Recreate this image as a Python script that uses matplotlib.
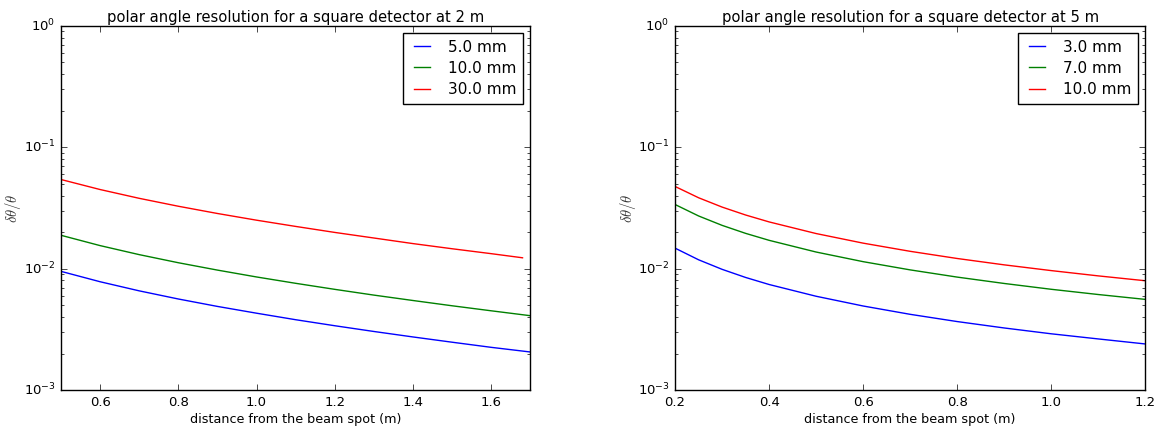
import matplotlib
matplotlib.use("Agg")
import matplotlib.pyplot as plt

# detector at 2 m
dist_2m = [0.5, 0.6, 0.7, 0.8, 0.9, 1.0, 1.1, 1.2, 1.3, 1.4, 1.5, 1.6, 1.7]
res_2m_5mm = [0.00951, 0.00781, 0.00657, 0.00563, 0.00489, 0.00430, 0.00380,
              0.00339, 0.00304, 0.00274, 0.00248, 0.00225, 0.00206]
res_2m_10mm = [0.01885, 0.01550, 0.01306, 0.01120, 0.00974, 0.00855, 0.00758,
               0.00676, 0.00606, 0.00547, 0.00495, 0.00450, 0.00410]
dist_2m_30mm = [0.5, 0.6, 0.7, 0.8, 0.9, 1.0, 1.1, 1.2, 1.3, 1.4, 1.5, 1.6, 1.68]
res_2m_30mm = [0.0543, 0.0449, 0.0380, 0.0327, 0.0285, 0.0251, 0.0223,
               0.0199, 0.0179, 0.0161, 0.0146, 0.0133, 0.0123]

# detector at 5 m
dist_5m = [0.2, 0.25, 0.3, 0.35, 0.4, 0.5, 0.6, 0.7, 0.8, 0.9, 1.0, 1.1, 1.2]
res_5m_3mm = [0.01476, 0.01184, 0.00988, 0.00847, 0.00741, 0.00593, 0.00493,
              0.00421, 0.00367, 0.00325, 0.00291, 0.00264, 0.00240]
res_5m_7mm = [0.03378, 0.02719, 0.02275, 0.01955, 0.01713, 0.01372, 0.01143,
              0.00978, 0.00853, 0.00756, 0.00677, 0.00613, 0.00559]
res_5m_10mm = [0.04757, 0.03840, 0.03218, 0.02769, 0.02429, 0.01948, 0.01624,
               0.01391, 0.01214, 0.01076, 0.00965, 0.00873, 0.00796]

plt.style.use("classic")
fig = plt.figure(figsize=(11.59, 4.32), dpi=100, facecolor="white")

panels = [
    ([0.0526, 0.097, 0.405, 0.843], "2 m", (0.5, 1.7),
     [(dist_2m, res_2m_5mm, "b", "5.0 mm"),
      (dist_2m, res_2m_10mm, "g", "10.0 mm"),
      (dist_2m_30mm, res_2m_30mm, "r", "30.0 mm")]),
    ([0.5825, 0.097, 0.4055, 0.843], "5 m", (0.2, 1.2),
     [(dist_5m, res_5m_3mm, "b", "3.0 mm"),
      (dist_5m, res_5m_7mm, "g", "7.0 mm"),
      (dist_5m, res_5m_10mm, "r", "10.0 mm")]),
]

for rect, det, xlim, series in panels:
    ax = fig.add_axes(rect)
    for x, y, c, lab in series:
        ax.plot(x, y, color=c, lw=1.0, label=lab)
    ax.set_yscale("log")
    ax.set_ylim(1e-3, 1)
    ax.set_xlim(*xlim)
    ax.tick_params(labelsize=9.5)
    ax.set_title("polar angle resolution for a square detector at " + det,
                 fontsize=10.6, pad=3)
    ax.set_xlabel("distance from the beam spot (m)", fontsize=9.2, labelpad=3)
    ax.set_ylabel(r"$\delta\theta/\theta$", fontsize=10.5, color="#333333")
    ax.yaxis.set_label_coords(-0.08, 0.5)
    ax.legend(loc="upper right", fontsize=11, borderaxespad=0.45,
              handlelength=1.6, handletextpad=0.9, labelspacing=0.4,
              borderpad=0.45)

fig.savefig("out.png", dpi=100, facecolor="white")
